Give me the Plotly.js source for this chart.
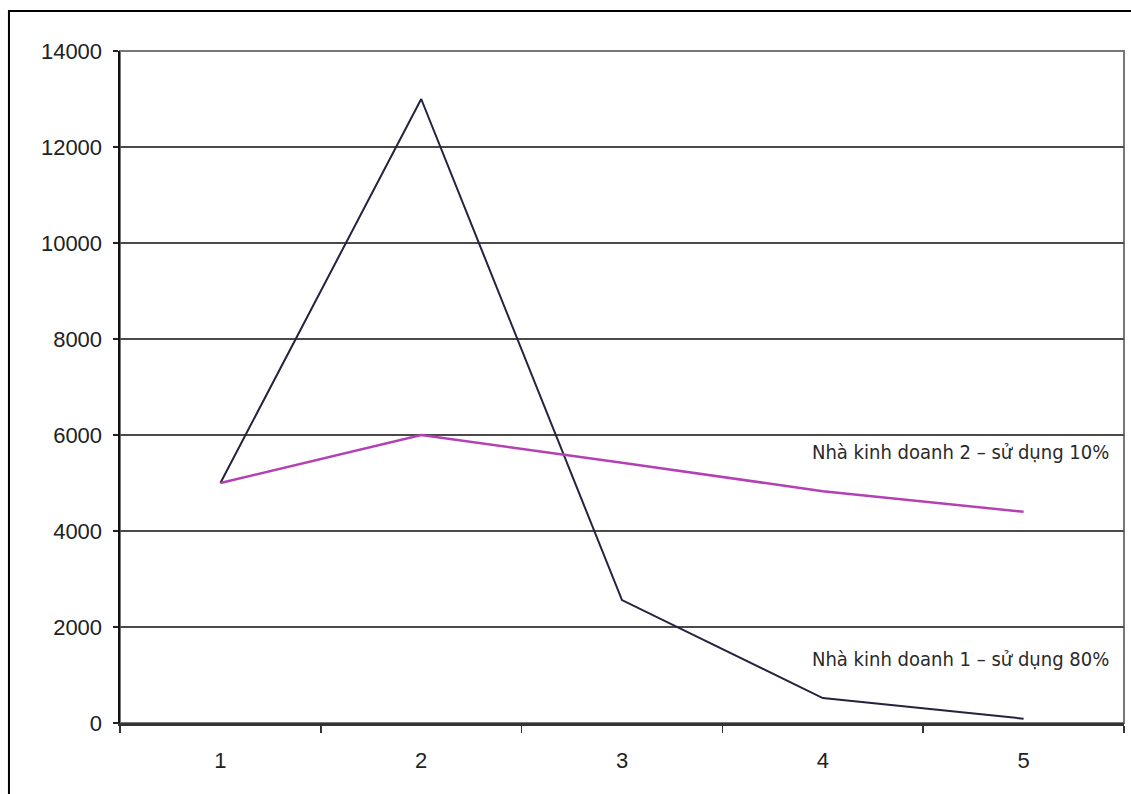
<!DOCTYPE html>
<html>
<head>
<meta charset="utf-8">
<script src="https://cdn.plot.ly/plotly-3.0.1.min.js"></script>
<style>
html,body{margin:0;padding:0;background:#fff;}
#chart{width:1131px;height:794px;}
</style>
</head>
<body>
<div id="chart"></div>
<script>
const categories = ['1', '2', '3', '4', '5'];
const trader1 = [5000, 13000, 2560, 520, 90];
const trader2 = [5000, 6000, 5420, 4830, 4400];
const label1 = 'Nhà kinh doanh 1 – sử dụng 80%';
const label2 = 'Nhà kinh doanh 2 – sử dụng 10%';
const yTicks = [0, 2000, 4000, 6000, 8000, 10000, 12000, 14000];

const traces = [
  {x: categories, y: trader1, type: 'scatter', mode: 'lines', name: label1,
   line: {color: '#23233f', width: 2}},
  {x: categories, y: trader2, type: 'scatter', mode: 'lines', name: label2,
   line: {color: '#b440b4', width: 2.5}}
];

const layout = {
  width: 1131, height: 794,
  margin: {l: 120, r: 7, t: 51, b: 71},
  paper_bgcolor: '#fff', plot_bgcolor: '#fff',
  showlegend: false,
  font: {family: 'Liberation Sans, Arial, sans-serif', color: '#222', size: 22},
  xaxis: {
    type: 'category', range: [-0.5, 4.5], tickson: 'boundaries', ticks: 'outside', ticklen: 7,
    tickcolor: '#333', tickwidth: 1.5, showgrid: false, zeroline: false,
    showline: true, linecolor: '#333', linewidth: 2.5,
    ticklabelstandoff: 16, tickfont: {size: 22}
  },
  yaxis: {
    range: [0, 14000], tickvals: yTicks, ticktext: yTicks.map(String),
    ticks: 'outside', ticklen: 5, tickcolor: '#222', tickwidth: 1.5,
    showgrid: true, gridcolor: '#4a4a4a', gridwidth: 2, zeroline: false,
    showline: true, linecolor: '#111', linewidth: 2.5,
    ticklabelstandoff: 6, tickfont: {size: 22}
  },
  shapes: [
    {type: 'rect', xref: 'paper', yref: 'paper', x0: 0, x1: 1, y0: 0, y1: 1,
     line: {color: '#777', width: 2}, layer: 'below'},
    {type: 'path', xref: 'paper', yref: 'paper',
     path: 'M -0.1106 -0.2 L -0.1106 1.0595 L 1.2 1.0595',
     line: {color: '#000', width: 2}}
  ],
  annotations: [
    {xref: 'paper', yref: 'paper', x: 0.687, y: 0.403, xanchor: 'left', yanchor: 'middle',
     text: label2, showarrow: false, font: {size: 20, color: '#2a2a2a', family: 'DejaVu Sans Condensed, DejaVu Sans, sans-serif'}},
    {xref: 'paper', yref: 'paper', x: 0.687, y: 0.095, xanchor: 'left', yanchor: 'middle',
     text: label1, showarrow: false, font: {size: 20, color: '#2a2a2a', family: 'DejaVu Sans Condensed, DejaVu Sans, sans-serif'}}
  ]
};

Plotly.newPlot('chart', traces, layout, {displayModeBar: false, staticPlot: true});
</script>
</body>
</html>
